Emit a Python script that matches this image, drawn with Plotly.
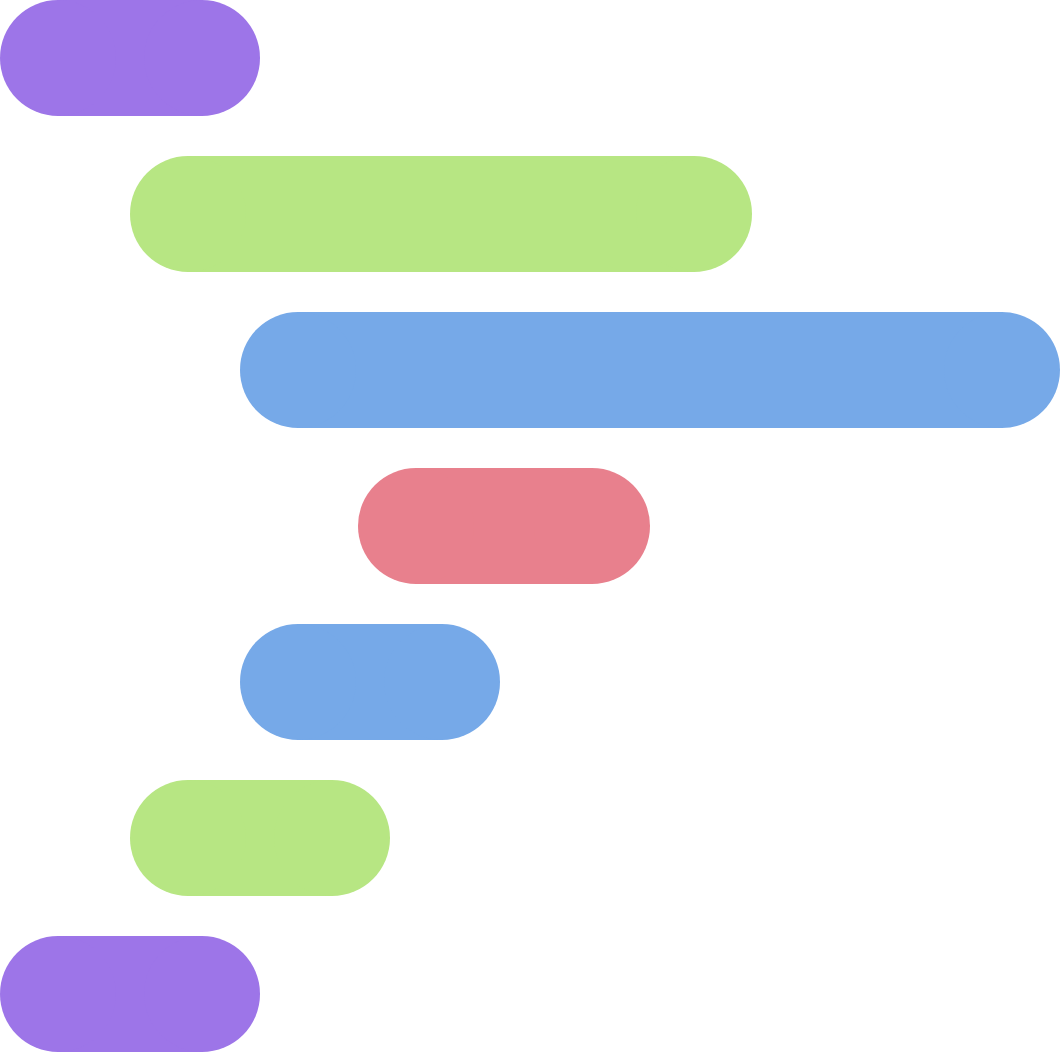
import plotly.graph_objects as go

rows = [0, 1, 2, 3, 4, 5, 6]
starts = [0, 130, 240, 358, 240, 130, 0]
ends = [260, 752, 1060, 650, 500, 390, 260]
colors = ["#9D75E8", "#B7E683", "#76A9E8", "#E8808D", "#76A9E8", "#B7E683", "#9D75E8"]

W, H = 1060, 1052
pitch = 156      # px per row
thick = 116      # bar thickness in px
cap = thick / 2

fig = go.Figure()

# straight middle part of each pill
fig.add_trace(go.Bar(
    y=rows,
    x=[e - s - thick for s, e in zip(starts, ends)],
    base=[s + cap for s in starts],
    orientation="h",
    width=thick / pitch,
    marker=dict(color=colors, line=dict(width=0)),
    hoverinfo="skip",
))

# rounded ends
for xs in (starts, ends):
    fig.add_trace(go.Scatter(
        y=rows,
        x=[v + (cap if xs is starts else -cap) for v in xs],
        mode="markers",
        marker=dict(size=thick, color=colors, opacity=1, line=dict(width=0)),
        hoverinfo="skip",
    ))

pad = cap / pitch
fig.update_layout(
    width=W, height=H,
    margin=dict(l=0, r=0, t=0, b=0),
    paper_bgcolor="white", plot_bgcolor="white",
    showlegend=False,
    xaxis=dict(range=[0, W], visible=False, fixedrange=True),
    yaxis=dict(range=[rows[-1] + pad, rows[0] - pad], visible=False, fixedrange=True),
)

fig.write_html("out.html", config={"displayModeBar": False},
               post_script="document.body.style.margin='0';")
